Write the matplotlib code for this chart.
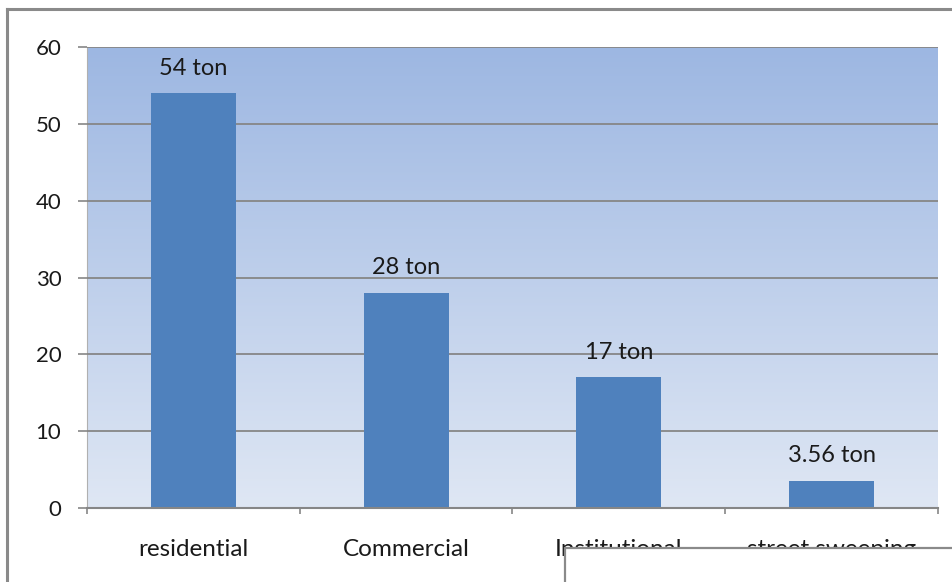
import numpy as np
import matplotlib
matplotlib.use("Agg")
import matplotlib.pyplot as plt
from matplotlib.lines import Line2D
from matplotlib.patches import Rectangle

categories = ["residential", "Commercial", "Institutional", "street sweeping"]
values = [54, 28, 17, 3.56]
value_labels = ["54 ton", "28 ton", "17 ton", "3.56 ton"]
yticks = [0, 10, 20, 30, 40, 50, 60]

plt.rcParams['font.family'] = ['Lato', 'DejaVu Sans']

W, H = 953, 582
fig = plt.figure(figsize=(W / 100, H / 100), dpi=100)
ax = fig.add_axes([87 / W, 1 - 508 / H, (938 - 87) / W, (508 - 47) / H])

# gradient background
top = np.array([157, 183, 226]) / 255
bot = np.array([223, 231, 244]) / 255
t = np.linspace(0, 1, 256)[:, None]
grad = (top * (1 - t) + bot * t)[:, None, :]
ax.imshow(grad, extent=[0, 1, 0, 1], transform=ax.transAxes, aspect='auto', zorder=0)

x = np.arange(len(categories))
ax.bar(x, values, width=0.4, color='#4F81BD', zorder=3)
for xi, v, lab in zip(x, values, value_labels):
    ax.annotate(lab, (xi, v), xytext=(0, 18), textcoords='offset points',
                ha='center', va='center', fontsize=17, color='#1a1a1a', zorder=4)

ax.set_xlim(-0.5, len(categories) - 0.5)
ax.set_ylim(0, 60)
ax.set_yticks(yticks)
ax.tick_params(axis='y', length=6.5, width=1.2, color='#868686', pad=12, labelsize=16,
               labelcolor='#1a1a1a')
ax.yaxis.grid(True, color='#868686', linewidth=1.3, zorder=2)
ax.set_axisbelow(False)
for gl in ax.get_ygridlines():
    gl.set_zorder(2)

ax.set_xticks(x)
ax.set_xticklabels(categories)
ax.tick_params(axis='x', which='major', length=0, pad=22, labelsize=17.5, labelcolor='#1a1a1a')
ax.set_xticks(np.arange(-0.5, len(categories), 1.0), minor=True)
ax.tick_params(axis='x', which='minor', length=4, width=1.2, color='#868686')

for s in ['top', 'right']:
    ax.spines[s].set_visible(False)
ax.spines['left'].set_color('#b0b0b0')
ax.spines['left'].set_linewidth(0.8)
ax.spines['bottom'].set_color('#868686')
ax.spines['bottom'].set_linewidth(1.5)
ax.spines['bottom'].set_zorder(5)

# outer chart border (cropped screenshot)
fig.add_artist(Line2D([7 / W, 7 / W], [0, 1 - 9 / H], transform=fig.transFigure,
                      color='#8a8a8a', linewidth=2.2))
fig.add_artist(Line2D([7 / W, 1], [1 - 9 / H, 1 - 9 / H], transform=fig.transFigure,
                      color='#8a8a8a', linewidth=2.2))

# overlapping white box at bottom right
box = Rectangle((565 / W, -0.05), 1, (582 - 548) / H + 0.05, transform=fig.transFigure,
                facecolor='white', edgecolor='#8a8a8a', linewidth=1.6, zorder=10)
fig.add_artist(box)

fig.savefig("out.png", dpi=100)
